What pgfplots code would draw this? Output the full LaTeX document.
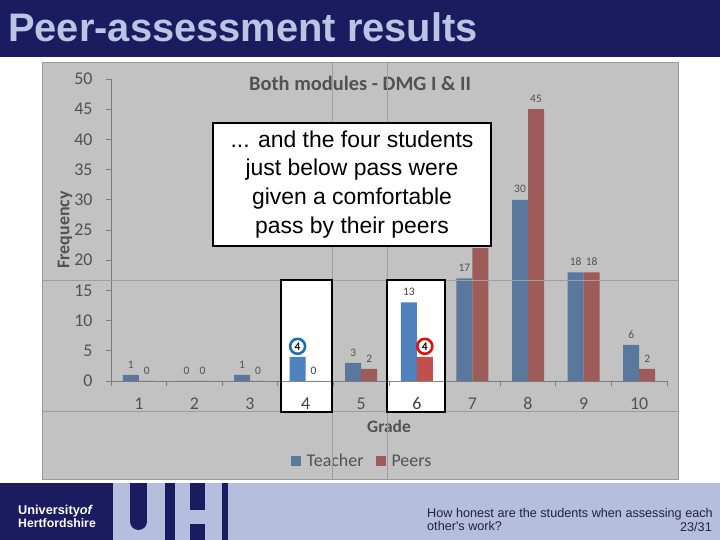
\documentclass[border=0pt]{standalone}
\usepackage{fontspec}
\usepackage{pgfplots}
\pgfplotsset{compat=1.18}
\setmainfont{Carlito}
\newfontfamily\arial{Liberation Sans}
\definecolor{navy}{HTML}{1B1B60}
\definecolor{lav}{HTML}{B5BFDD}
\definecolor{titlelav}{HTML}{BCC4E4}
\definecolor{tblue}{HTML}{4F81BD}
\definecolor{pred}{HTML}{C0504D}
\definecolor{txt}{HTML}{404040}
\definecolor{axgray}{HTML}{868686}
\definecolor{ovl}{HTML}{6C6C6C}
\definecolor{cblue}{HTML}{1F6EB0}
\definecolor{cred}{HTML}{DD1111}
\definecolor{foottxt}{HTML}{22223F}

\pgfplotstableread{
grade teacher peers
1 1 0
2 0 0
3 1 0
4 4 0
5 3 2
6 13 4
7 17 22
8 30 45
9 18 18
10 6 2
}\grades

\pgfplotsset{
  common/.style={
    scale only axis, width=556bp, height=302bp,
    at={(111bp,159bp)}, anchor=south west,
    xmin=0.5, xmax=10.5, ymin=0, ymax=50,
    enlargelimits=false,
    ybar=0pt, bar width=16bp,
    /pgf/number format/assume math mode=true,
  },
  sqlegend/.style={legend image code/.code={\fill[##1] (4bp,-5bp) rectangle (14bp,5bp); \path (18bp,0bp);}},
}

\begin{document}
\begin{tikzpicture}[x=1bp,y=1bp]
\useasboundingbox (0,0) rectangle (720,540);
\fill[white] (0,0) rectangle (720,540);
% header
\fill[navy] (0,483) rectangle (720,540);
\node[anchor=base west, inner sep=0, text=titlelav, font=\arial\bfseries\fontsize{40}{40}\selectfont] at (8,498) {Peer-assessment results};

% chart
\begin{axis}[common,
  axis lines*=left,
  axis line style={draw=axgray, line width=0.8bp},
  tick style={draw=axgray, line width=0.8bp},
  tick align=outside, major tick length=5bp,
  ytick={0,5,...,50},
  xtick={0.5,1.5,...,10.5},
  x tick label as interval,
  xticklabels={1,2,3,4,5,6,7,8,9,10},
  tick label style={font=\fontsize{18}{18}\selectfont, text=txt},
  yticklabel style={anchor=east, xshift=-10bp},
  xticklabel style={anchor=center, text height=12bp, text depth=0bp, yshift=-18bp},
  title={Both modules - DMG I \& II},
  title style={at={(axis description cs:0.448,0.965)}, anchor=center, font=\bfseries\fontsize{20.5}{20.5}\selectfont, text=txt},
  xlabel={Grade},
  xlabel style={at={(axis description cs:0.5,-0.152)}, anchor=center, font=\bfseries\fontsize{17.5}{17.5}\selectfont, text=txt},
  ylabel={Frequency},
  ylabel style={at={(axis description cs:-0.0827,0.5)}, anchor=center, font=\bfseries\fontsize{18}{18}\selectfont, text=txt},
  nodes near coords,
  every node near coord/.append style={font=\fontsize{11.5}{11.5}\selectfont, text=txt, anchor=center, yshift=10.5bp, inner sep=0pt},
  legend style={at={(axis description cs:0.4514,-0.265)}, anchor=center, draw=none, fill=none,
    legend columns=2, font=\fontsize{18}{18}\selectfont, text=txt,
    /tikz/every even column/.append style={column sep=10bp}},
]
\addplot[fill=tblue, draw=none, sqlegend] table[x=grade, y=teacher] {\grades};
\addlegendentry{Teacher}
\addplot[fill=pred, draw=none, sqlegend] table[x=grade, y=peers] {\grades};
\addlegendentry{Peers}
\end{axis}

% grey overlay with highlighted windows
\fill[ovl, opacity=0.41, even odd rule] (42,60) rectangle (678,477) (281,128) rectangle (332,260) (387,128) rectangle (445,260);
\draw[black!38, line width=0.6bp] (332,60) -- (332,477) (387.5,60) -- (387.5,477) (42,260) -- (678,260) (42,129) -- (678,129);
\draw[black!40, line width=1bp] (42,60) rectangle (678,477);
\draw[black, line width=2.6bp] (281,128) rectangle (332,260);
\draw[black, line width=2.6bp] (387,128) rectangle (445,260);

% circled labels
\begin{axis}[common, hide axis,
  nodes near coords,
  every node near coord/.append style={font=\fontsize{11.5}{11.5}\selectfont, text=black, anchor=center, yshift=10.5bp, circle, minimum size=15bp, inner sep=0pt, line width=2.6bp},
]
\addplot[draw=none, fill=none, every node near coord/.append style={draw=cblue}] coordinates {(4,4)};
\addplot[draw=none, fill=none, every node near coord/.append style={draw=cred}] coordinates {(6,4)};
\end{axis}

% callout
\node[draw=black, fill=white, line width=1.2bp, minimum width=278bp, minimum height=123bp, inner sep=0pt,
  align=center, font=\arial\fontsize{23}{29}\selectfont] at (352,355.5)
  {... and the four students\\just below pass were\\given a comfortable\\pass by their peers};

% footer
\fill[lav] (0,0) rectangle (720,57);
\fill[navy] (0,0) rectangle (228,57);
\fill[lav] (113,0) rectangle (165,57);
\fill[navy] (130,18.5) rectangle (147,57);
\fill[navy] (138.5,18.5) circle (8.5);
\fill[lav] (175,0) rectangle (190,57);
\fill[lav] (205,0) rectangle (222,57);
\fill[lav] (190,16) rectangle (205,30);
\node[anchor=base west, inner sep=0, text=white, font=\arial\bfseries\fontsize{12.8}{12.8}\selectfont] at (18,25) {University\textit{of}};
\node[anchor=base west, inner sep=0, text=white, font=\arial\bfseries\fontsize{12.3}{12.3}\selectfont] at (18,12) {Hertfordshire};
\node[anchor=base west, inner sep=0, text=foottxt, font=\arial\fontsize{12.7}{12.7}\selectfont] at (427,22) {How honest are the students when assessing each};
\node[anchor=base west, inner sep=0, text=foottxt, font=\arial\fontsize{12.7}{12.7}\selectfont] at (427,9) {other's work?};
\node[anchor=base east, inner sep=0, text=foottxt, font=\arial\fontsize{12.7}{12.7}\selectfont] at (712,8) {23/31};
\end{tikzpicture}
\end{document}
